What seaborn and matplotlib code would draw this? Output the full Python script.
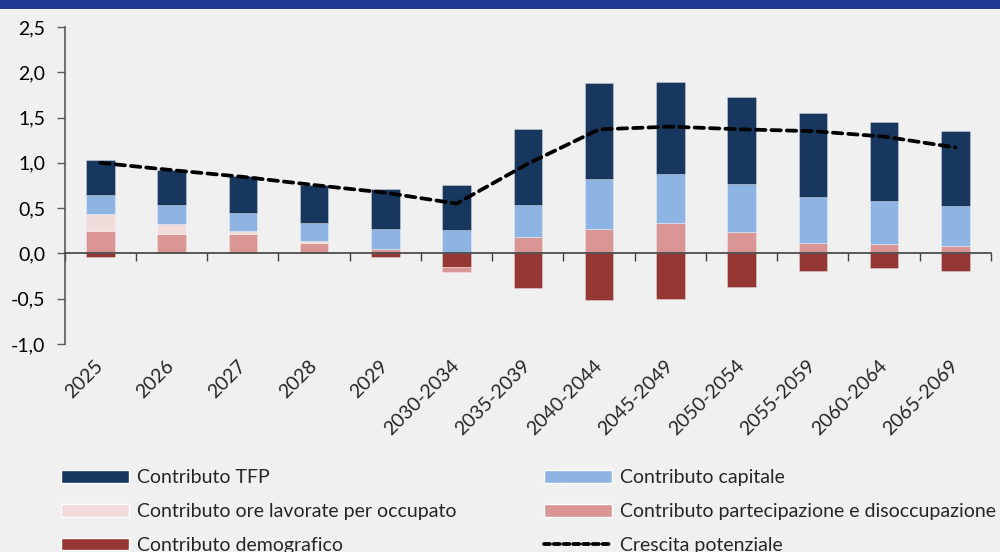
import numpy as np
import pandas as pd
import matplotlib
matplotlib.use("Agg")
import matplotlib.pyplot as plt
import seaborn as sns
from matplotlib.patches import Patch, Rectangle
from matplotlib.lines import Line2D
from matplotlib.ticker import FixedLocator, FuncFormatter

categories = ["2025", "2026", "2027", "2028", "2029", "2030-2034", "2035-2039",
              "2040-2044", "2045-2049", "2050-2054", "2055-2059", "2060-2064", "2065-2069"]
contributo_tfp = [0.38, 0.39, 0.405, 0.42, 0.44, 0.50, 0.84, 1.05, 1.015, 0.97, 0.925, 0.875, 0.83]
contributo_capitale = [0.22, 0.21, 0.195, 0.205, 0.223, 0.26, 0.355, 0.555, 0.55, 0.53, 0.505, 0.475, 0.45]
contributo_ore = [0.18, 0.11, 0.04, 0.025, 0.0, 0.0, 0.0, 0.0, 0.0, 0.0, 0.0, 0.0, 0.0]
contributo_partecipazione = [0.25, 0.21, 0.21, 0.11, 0.047, -0.06, 0.177, 0.272, 0.331, 0.232, 0.117, 0.10, 0.077]
contributo_demografico = [-0.04, 0.0, 0.0, 0.0, -0.04, -0.15, -0.383, -0.52, -0.50, -0.372, -0.195, -0.16, -0.195]
crescita_potenziale = [1.0, 0.92, 0.845, 0.755, 0.67, 0.55, 0.99, 1.37, 1.40, 1.37, 1.35, 1.29, 1.17]

labels = ["Contributo TFP", "Contributo capitale", "Contributo ore lavorate per occupato",
          "Contributo partecipazione e disoccupazione", "Contributo demografico", "Crescita potenziale"]
colors = {"tfp": "#17375e", "cap": "#8eb4e3", "ore": "#f2dcdb", "par": "#d99694", "dem": "#953735"}

BG = "#f0f0f0"
sns.set_theme(style="white")
plt.rcParams['font.family'] = ['Lato', 'DejaVu Sans']
FS = 14

fig = plt.figure(figsize=(10, 5.52), dpi=100, facecolor=BG)
ax = fig.add_axes([0.0647, 0.377, 0.9263, 0.574])
ax.set_facecolor(BG)

# Stacking: Excel order (demografico, partecipazione, ore, capitale, TFP),
# positives stacked upward and negatives downward separately
series = [("dem", contributo_demografico), ("par", contributo_partecipazione),
          ("ore", contributo_ore), ("cap", contributo_capitale), ("tfp", contributo_tfp)]
pos_base = np.zeros(len(categories))
neg_base = np.zeros(len(categories))
for key, vals in series:
    v = np.asarray(vals, dtype=float)
    bottom = np.where(v >= 0, pos_base, neg_base)
    df = pd.DataFrame({"cat": categories, "val": v})
    sns.barplot(data=df, x="cat", y="val", order=categories, color=colors[key],
                saturation=1, width=0.4, errorbar=None, bottom=bottom,
                edgecolor=(1, 1, 1, 0.35), linewidth=0.6, ax=ax)
    pos_base = pos_base + np.where(v > 0, v, 0)
    neg_base = neg_base + np.where(v < 0, v, 0)

line_df = pd.DataFrame({"x": np.arange(len(categories)), "y": crescita_potenziale})
sns.lineplot(data=line_df, x="x", y="y", ax=ax, color="black", linewidth=2.7,
             dashes=False)
ln = ax.lines[-1]
ln.set_dashes((2.5, 1.6))
ln.set_dash_capstyle("round")

ax.set_xlim(-0.5, len(categories) - 0.5)
ax.set_ylim(-1.0, 2.5)
ax.set_yticks(np.arange(-1.0, 2.51, 0.5))
ax.yaxis.set_major_formatter(FuncFormatter(lambda v, p: f"{v:.1f}".replace(".", ",")))
ax.tick_params(axis="y", direction="out", length=6, width=1, color="#595959",
               labelsize=FS, pad=8, left=True, labelcolor="black")

ax.spines["top"].set_visible(False)
ax.spines["right"].set_visible(False)
ax.spines["left"].set_color("#595959")
ax.spines["left"].set_linewidth(1.2)
ax.spines["bottom"].set_position(("data", 0))
ax.spines["bottom"].set_color("#404040")
ax.spines["bottom"].set_linewidth(1.2)

ax.set_xticks(np.arange(len(categories)))
ax.set_xticklabels(categories)
ax.xaxis.set_minor_locator(FixedLocator(np.arange(-0.5, len(categories), 1.0)))
ax.tick_params(axis="x", which="major", length=0, pad=79, labelsize=FS)
ax.tick_params(axis="x", which="minor", direction="out", length=6, width=1,
               color="#404040", bottom=True)
for t in ax.get_xticklabels():
    t.set_rotation(45)
    t.set_ha("right")
    t.set_va("center")
    t.set_rotation_mode("anchor")
ax.set_xlabel("")
ax.set_ylabel("")

handles = [
    Patch(facecolor=colors["tfp"], label=labels[0]),
    Patch(facecolor=colors["ore"], label=labels[2]),
    Patch(facecolor=colors["dem"], label=labels[4]),
    Patch(facecolor=colors["cap"], label=labels[1]),
    Patch(facecolor=colors["par"], label=labels[3]),
    Line2D([0], [0], color="black", linewidth=2.7, dashes=(1.6, 1.0), dash_capstyle="round",
           label=labels[5]),
]
leg = fig.legend(handles=handles, ncol=2, loc="upper left", bbox_to_anchor=(0.061, 0.150),
                 frameon=False, fontsize=FS, handlelength=3.5, handleheight=0.62,
                 handletextpad=0.4, labelspacing=0.87, columnspacing=4.5,
                 borderaxespad=0, borderpad=0)

fig.add_artist(Rectangle((0, 1 - 9 / 552), 1, 9 / 552, transform=fig.transFigure,
                         facecolor="#203a94", edgecolor="none"))

fig.savefig("out.png", dpi=100, facecolor=BG)
